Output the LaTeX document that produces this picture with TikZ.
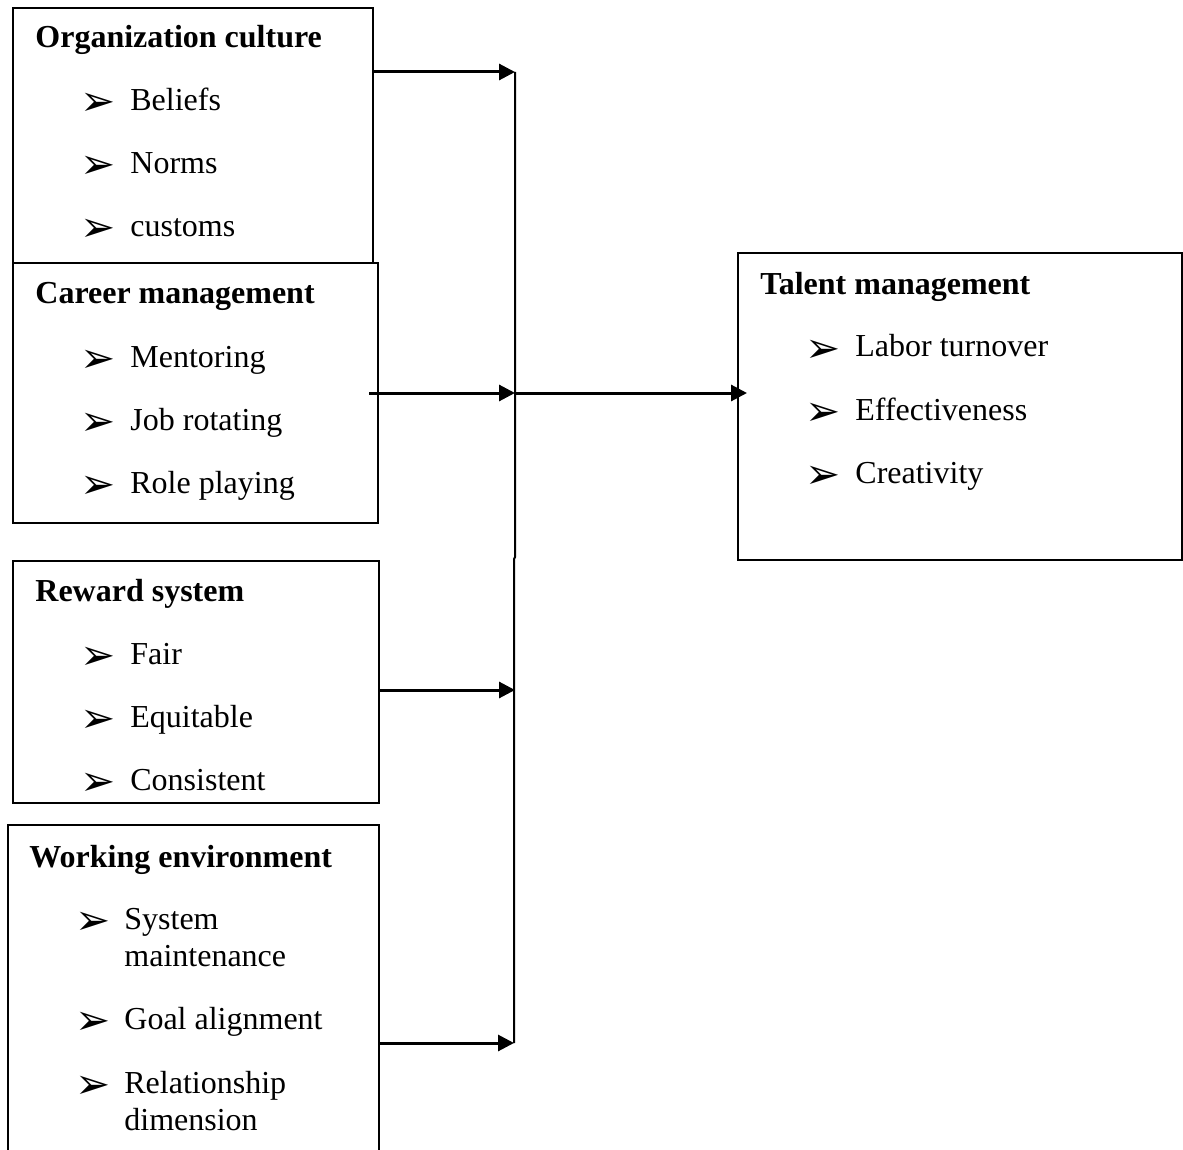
\documentclass[tikz,border=0pt]{standalone}
\usepackage{fontspec}
\setmainfont{Liberation Serif}
\newfontfamily\symfont{DejaVu Sans}
\usetikzlibrary{arrows.meta, fit}
\newcommand{\bul}{{\symfont\fontsize{21}{21}\selectfont\char"27A2}}
\tikzset{
  box/.style={draw, line width=1pt, inner sep=0pt},
  head/.style={anchor=base west, inner sep=0pt, font=\fontsize{16}{19}\selectfont\bfseries},
  point/.style={anchor=base west, inner sep=0pt, font=\fontsize{16}{19}\selectfont},
  flow/.style={line width=1.5pt, -{Triangle[length=8pt, width=8pt]}},
}
\begin{document}
\begin{tikzpicture}[x=0.5pt, y=-0.5pt]
\useasboundingbox (0,0) rectangle (1183,1150);

% left boxes
\node[box, fit={(13,8) (373,263)}] (culture) {};
\node[box, fit={(13,263) (378,523)}] (career) {};
\node[box, fit={(13,561) (379,803)}] (reward) {};
\node[box, fit={(8,825) (379,1170)}] (environment) {};
% right box
\node[box, fit={(738,253) (1182,560)}] (talent) {};

% titles
\node[head] (culture-title) at (35,48) {Organization culture};
\node[head] (career-title) at (35,304) {Career management};
\node[head] (reward-title) at (35,601) {Reward system};
\node[head] (environment-title) at (29,867) {Working environment};
\node[head] (talent-title) at (760,294) {Talent management};

% items
\foreach \y/\t in {111/Beliefs, 174/Norms, 237/customs,
                   367/Mentoring, 430/Job rotating, 493/Role playing,
                   664/Fair, 727/Equitable, 790/Consistent} {
  \node[point] (b-\y) at (80,\y+5) {\bul};
  \node[point] (t-\y) at (130,\y) {\t};
}
\foreach \y/\t in {929/System, 1029/Goal alignment, 1093/Relationship} {
  \node[point] (b-\y) at (75,\y+5) {\bul};
  \node[point] (t-\y) at (124,\y) {\t};
}
\node[point] (t-966) at (124,966) {maintenance};
\node[point] (t-1130) at (124,1130) {dimension};
\foreach \y/\t in {357/Labor turnover, 420/Effectiveness, 483/Creativity} {
  \node[point] (b-\y) at (805,\y+5) {\bul};
  \node[point] (t-\y) at (855,\y) {\t};
}

% connectors
\coordinate (j1) at (515,72);
\coordinate (j2) at (515,393);
\coordinate (j3) at (515,690);
\coordinate (j4) at (514,1043);
\coordinate (step-top) at (515,557);
\coordinate (step-bot) at (514,559);
\draw[line width=1pt] (j1) -- (step-top) -- (step-bot) -- (j4);

\draw[flow] (culture.east |- j1) -- (j1);
\draw[flow] ([xshift=-5]career.east |- j2) -- (j2);
\draw[flow] (reward.east |- j3) -- (j3);
\draw[flow] (environment.east |- j4) -- (j4);
\draw[flow, shorten >=-5pt] (j2) -- (talent.west |- j2);
\end{tikzpicture}
\end{document}
